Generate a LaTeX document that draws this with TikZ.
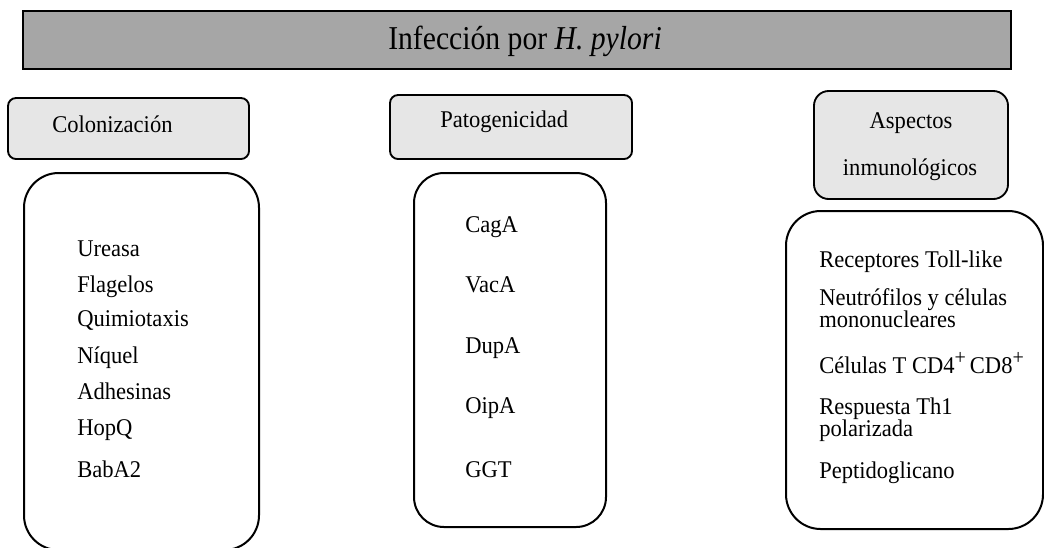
\documentclass[tikz,border=0pt]{standalone}
\usepackage{fontspec}
\setmainfont{Liberation Serif}[FakeStretch=0.94]
\newfontfamily\titlefont{Liberation Serif}[FakeStretch=0.89]
\definecolor{titlegray}{HTML}{A6A6A6}
\definecolor{headgray}{HTML}{E6E6E6}
\newcommand{\supplus}{\raisebox{0.75ex}{\fontsize{16pt}{16pt}\selectfont +}}
\tikzset{
  titlebox/.style={draw, line width=2.2pt, fill=titlegray, rectangle, inner sep=0pt, outer sep=0pt},
  headbox/.style={draw, line width=1.4pt, fill=headgray, rectangle, inner sep=0pt, outer sep=0pt},
  listbox/.style={draw, line width=1.5pt, fill=white, rectangle, inner sep=0pt, outer sep=0pt},
  titletext/.style={anchor=base, inner sep=0pt, font=\titlefont\fontsize{25pt}{28pt}\selectfont},
  bodytext/.style={anchor=base west, inner sep=0pt, align=left, font=\fontsize{18pt}{16.5pt}\selectfont},
  headtext/.style={anchor=base, inner sep=0pt, font=\fontsize{18pt}{16.5pt}\selectfont}
}
\begin{document}
\begin{tikzpicture}[x=0.75pt,y=-0.75pt]
\clip (0,0) rectangle (1044,547);
\fill[white] (0,0) rectangle (1044,547);
% title
\node[titlebox, minimum width=741pt, minimum height=43.5pt] (title) at (517,40) {};
\node[titletext] (titletxt) at (525,49) {Infección por \textit{H. pylori}};
% headers
\node[headbox, rounded corners=6pt, minimum width=180.75pt, minimum height=45.75pt] (h1) at (128.5,128.5) {};
\node[bodytext] (h1t) at (52,132) {Colonización};
\node[headbox, rounded corners=6pt, minimum width=181.5pt, minimum height=48pt] (h2) at (511,127) {};
\node[bodytext] (h2t) at (440,127) {Patogenicidad};
\node[headbox, rounded corners=11pt, minimum width=145.5pt, minimum height=81pt] (h3) at (911,145) {};
\node[headtext] (h3a) at (911,128) {Aspectos};
\node[headtext] (h3b) at (910,175) {inmunológicos};
% list boxes
\node[listbox, rounded corners=26pt, minimum width=176.25pt, minimum height=282.75pt] (b1) at (141.5,361.5) {};
\node[listbox, rounded corners=22.5pt, minimum width=144pt, minimum height=265.5pt] (b2) at (510,350) {};
\node[listbox, rounded corners=26pt, minimum width=192.75pt, minimum height=238.5pt] (b3) at (914.5,370) {};
% column 1
\node[bodytext] (c1a) at (77,256) {Ureasa};
\node[bodytext] (c1b) at (77,292) {Flagelos};
\node[bodytext] (c1c) at (77,326) {Quimiotaxis};
\node[bodytext] (c1d) at (77,363) {Níquel};
\node[bodytext] (c1e) at (77,399) {Adhesinas};
\node[bodytext] (c1f) at (77,435) {HopQ};
\node[bodytext] (c1g) at (77,477) {BabA2};
% column 2
\node[bodytext] (c2a) at (465,232) {CagA};
\node[bodytext] (c2b) at (465,292) {VacA};
\node[bodytext] (c2c) at (465,353) {DupA};
\node[bodytext] (c2d) at (465,413) {OipA};
\node[bodytext] (c2e) at (465,477) {GGT};
% column 3
\node[bodytext] (c3a) at (819,267) {Receptores Toll-like};
\node[bodytext] (c3b) at (819,327) {Neutrófilos y células\\mononucleares};
\node[bodytext] (c3c) at (819,373) {Células T CD4\supplus\,CD8\supplus};
\node[bodytext] (c3d) at (819,436) {Respuesta Th1\\polarizada};
\node[bodytext] (c3e) at (819,478) {Peptidoglicano};
\end{tikzpicture}
\end{document}
